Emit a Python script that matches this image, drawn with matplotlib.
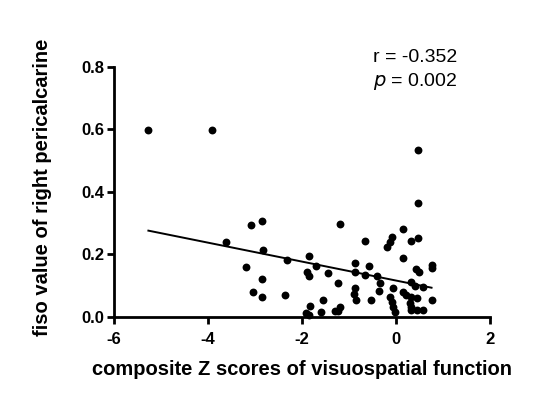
import numpy as np
import matplotlib
matplotlib.use("Agg")
import matplotlib.pyplot as plt

plt.rcParams['font.family'] = ['Liberation Sans', 'DejaVu Sans']

# composite Z scores (x) and fiso values (y)
z_scores = [-5.27, -3.91, -3.62, -3.09, -2.84, -2.82, -2.31, -3.20, -2.84, -3.04,
            -2.84, -2.36, 0.47, 0.47, -1.18, 0.16, -0.08, -0.13, -0.19, -0.66,
            0.32, 0.47, 0.16, -1.86, -1.70, -1.89, -1.86, -1.44, -1.23, -0.87,
            -0.87, -0.57, -0.66, -0.40, -0.34, -0.36, -0.07, 0.43, 0.50, 0.76,
            0.76, 0.32, 0.40, 0.58, -0.87, -0.89, -0.85, -0.52, -0.13, -0.09,
            -0.06, -0.02, 0.16, 0.21, 0.33, 0.44, 0.30, 0.33, 0.44, 0.58,
            0.76, 0.32, -1.55, -1.82, -1.86, -1.91, -1.60, -1.30, -1.18, -1.23]
fiso = [0.598, 0.598, 0.238, 0.294, 0.307, 0.214, 0.182, 0.158, 0.122, 0.079,
        0.065, 0.070, 0.534, 0.364, 0.298, 0.281, 0.255, 0.241, 0.223, 0.243,
        0.243, 0.252, 0.188, 0.195, 0.163, 0.145, 0.131, 0.140, 0.108, 0.172,
        0.145, 0.163, 0.134, 0.131, 0.108, 0.084, 0.092, 0.153, 0.145, 0.166,
        0.155, 0.113, 0.099, 0.097, 0.092, 0.074, 0.054, 0.054, 0.063, 0.046,
        0.033, 0.014, 0.081, 0.070, 0.065, 0.060, 0.044, 0.022, 0.022, 0.022,
        0.054, 0.030, 0.054, 0.035, 0.006, 0.012, 0.014, 0.017, 0.033, 0.020]
x_ticks = [-6, -4, -2, 0, 2]
y_ticks = [0.0, 0.2, 0.4, 0.6, 0.8]

x = np.array(z_scores)
y = np.array(fiso)
slope, icpt = np.polyfit(x, y, 1)
xl = np.array([x.min(), x.max()])

fig = plt.figure(figsize=(5.46, 3.99), dpi=100)
ax = fig.add_axes([0.209, 0.206, 0.688, 0.626])
ax.scatter(x, y, s=32, color='black', zorder=3, clip_on=False, linewidths=0)
ax.plot(xl, slope * xl + icpt, color='black', lw=1.4)

ax.set_xlim(-6, 2)
ax.set_ylim(0, 0.8)
ax.set_xticks(x_ticks)
ax.set_yticks(y_ticks)
ax.set_xticklabels([str(t) for t in x_ticks])
ax.set_yticklabels(['%.1f' % t for t in y_ticks])
for s in ['top', 'right']:
    ax.spines[s].set_visible(False)
for s in ['left', 'bottom']:
    ax.spines[s].set_linewidth(2)
ax.tick_params(width=2, length=5, labelsize=12)
ax.tick_params(axis='x', pad=6)
ax.tick_params(axis='y', pad=2)
for lab in ax.get_xticklabels() + ax.get_yticklabels():
    lab.set_fontweight('bold')

ax.set_xlabel('composite Z scores of visuospatial function', fontsize=14.5,
              fontweight='bold', labelpad=9)
ax.set_ylabel('fiso value of right pericalcarine', fontsize=14.5,
              fontweight='bold')
ax.yaxis.set_label_coords(-0.165, 0.52)

ax.text(0.69, 1.02, 'r = -0.352', transform=ax.transAxes, fontsize=14,
        va='baseline')
ax.text(0.69, 0.925, '$\\it{p}$ = 0.002', transform=ax.transAxes, fontsize=14,
        va='baseline')

fig.savefig('out.png', dpi=100)
